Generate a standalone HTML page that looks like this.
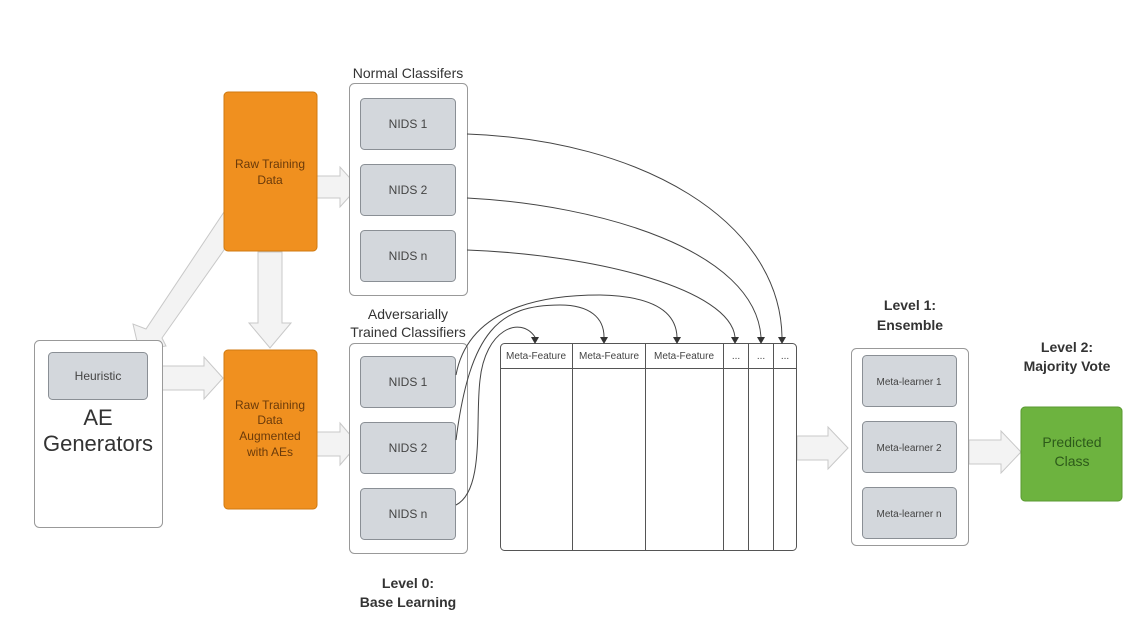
<!DOCTYPE html>
<html><head><meta charset="utf-8"><style>
html,body{margin:0;padding:0;background:#fff}
svg{display:block;font-family:"Liberation Sans",sans-serif}
</style></head><body>
<svg width="1143" height="618" viewBox="0 0 1143 618">
<g fill="#f3f3f3" stroke="#c8c8c8" stroke-width="1">
<polygon points="317,176 340,176 340,167 358,187 340,207 340,198 317,198"/>
<polygon points="148,366 204,366 204,357 223,378 204,399 204,390 148,390"/>
<polygon points="317,432 340,432 340,423 358,444 340,465 340,456 317,456"/>
<polygon points="797,436 828,436 828,427 848,448 828,469 828,460 797,460"/>
<polygon points="969,440 1001,440 1001,431 1021,452 1001,473 1001,464 969,464"/>
<polygon points="258,252 282,252 282,323 291,323 270,348 249,323 258,323"/>
<polygon points="224,212 224,250 162,338 166,346 139,350 133,324 146,329"/>
</g>
<g fill="#fff" stroke="#999" stroke-width="1">
<rect x="349.5" y="83.5" width="118" height="212" rx="5"/>
<rect x="349.5" y="343.5" width="118" height="210" rx="5"/>
<rect x="34.5" y="340.5" width="128" height="187" rx="5"/>
<rect x="851.5" y="348.5" width="117" height="197" rx="5"/>
<rect x="500.5" y="343.5" width="296" height="207" rx="4" stroke="#555"/>
</g>
<g stroke="#555" stroke-width="1">
<line x1="500" y1="368.5" x2="797" y2="368.5"/>
<line x1="572.5" y1="343" x2="572.5" y2="551"/>
<line x1="645.5" y1="343" x2="645.5" y2="551"/>
<line x1="723.5" y1="343" x2="723.5" y2="551"/>
<line x1="748.5" y1="343" x2="748.5" y2="551"/>
<line x1="773.5" y1="343" x2="773.5" y2="551"/>
</g>
<g fill="#d3d7dc" stroke="#8a8f95" stroke-width="1">
<rect x="360.5" y="98.5" width="95" height="51" rx="4"/>
<rect x="360.5" y="164.5" width="95" height="51" rx="4"/>
<rect x="360.5" y="230.5" width="95" height="51" rx="4"/>
<rect x="360.5" y="356.5" width="95" height="51" rx="4"/>
<rect x="360.5" y="422.5" width="95" height="51" rx="4"/>
<rect x="360.5" y="488.5" width="95" height="51" rx="4"/>
<rect x="48.5" y="352.5" width="99" height="47" rx="4"/>
<rect x="862.5" y="355.5" width="94" height="51" rx="4"/>
<rect x="862.5" y="421.5" width="94" height="51" rx="4"/>
<rect x="862.5" y="487.5" width="94" height="51" rx="4"/>
</g>
<rect x="224" y="92" width="93" height="159" rx="4" fill="#f0901f" stroke="#d07a10"/>
<rect x="224" y="350" width="93" height="159" rx="4" fill="#f0901f" stroke="#d07a10"/>
<rect x="1021" y="407" width="101" height="94" rx="4" fill="#6db33f" stroke="#5a9a30"/>
<g fill="none" stroke="#444" stroke-width="1">
<path d="M467,134 C640,140 780,220 782,337"/>
<path d="M467,198 C600,205 755,250 761,337"/>
<path d="M467,250 C600,255 730,290 735,337"/>
<path d="M456,375 C470,300 560,295 600,295 C650,296 676,310 677,337"/>
<path d="M456,440 C470,330 500,305 560,305 C590,305 604,318 604,337"/>
<path d="M456,505 C485,490 475,420 480,380 C485,330 520,315 535,337"/>
</g>
<g fill="#333">
<polygon points="778,337 786,337 782,344"/>
<polygon points="757,337 765,337 761,344"/>
<polygon points="731,337 739,337 735,344"/>
<polygon points="673,337 681,337 677,344"/>
<polygon points="600,337 608,337 604,344"/>
<polygon points="531,337 539,337 535,344"/>
</g>
<g fill="#333" text-anchor="middle">
<text x="408" y="78" font-size="14">Normal Classifers</text>
<text x="408" y="319" font-size="14">Adversarially</text>
<text x="408" y="337" font-size="14">Trained Classifiers</text>
<g font-size="12" fill="#444">
<text x="408" y="128">NIDS 1</text><text x="408" y="194">NIDS 2</text><text x="408" y="260">NIDS n</text>
<text x="408" y="386">NIDS 1</text><text x="408" y="452">NIDS 2</text><text x="408" y="518">NIDS n</text>
<text x="98" y="380">Heuristic</text>
</g>
<text x="98" y="425" font-size="22">AE</text>
<text x="98" y="451" font-size="22">Generators</text>
<g font-size="12" fill="#6a3a0a">
<text x="270" y="168">Raw Training</text><text x="270" y="184">Data</text>
<text x="270" y="409">Raw Training</text><text x="270" y="424">Data</text><text x="270" y="440">Augmented</text><text x="270" y="456">with AEs</text>
</g>
<g font-size="10" fill="#444">
<text x="536" y="359">Meta-Feature</text><text x="609" y="359">Meta-Feature</text><text x="684" y="359">Meta-Feature</text>
<text x="736" y="359">...</text><text x="761" y="359">...</text><text x="785" y="359">...</text>
<text x="909" y="385">Meta-learner 1</text><text x="909" y="451">Meta-learner 2</text><text x="909" y="517">Meta-learner n</text>
</g>
<g font-size="14" font-weight="bold" fill="#333">
<text x="408" y="588">Level 0:</text><text x="408" y="607">Base Learning</text>
<text x="910" y="310">Level 1:</text><text x="910" y="330">Ensemble</text>
<text x="1067" y="352">Level 2:</text><text x="1067" y="371">Majority Vote</text>
</g>
<text x="1072" y="447" font-size="14" fill="#2d5a1a">Predicted</text>
<text x="1072" y="466" font-size="14" fill="#2d5a1a">Class</text>
</g>
</svg>
</body></html>
